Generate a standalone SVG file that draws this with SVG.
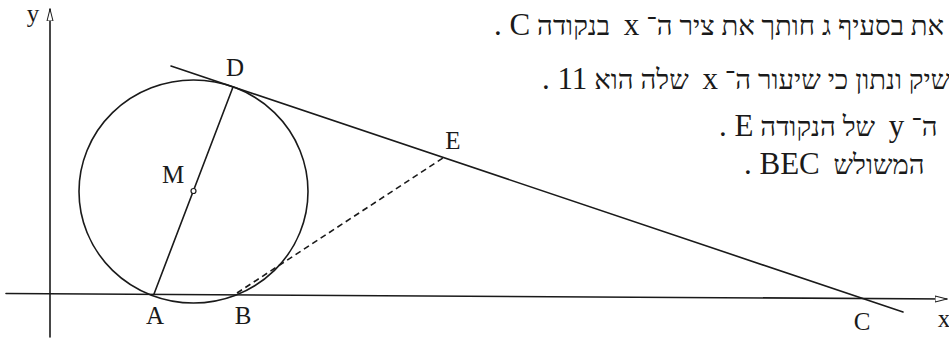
<svg xmlns="http://www.w3.org/2000/svg" width="949" height="338" viewBox="0 0 949 338">
<style>
.ln{stroke:#1a1a1a;stroke-width:1.6;fill:none;stroke-linecap:round}
.dash{stroke:#1a1a1a;stroke-width:1.6;fill:none;stroke-dasharray:6 4}
.lbl{font-family:"Liberation Serif","DejaVu Serif",serif;font-size:25px;fill:#1a1a1a;text-anchor:middle}
.heb{font-family:"Liberation Serif","DejaVu Serif","DejaVu Sans",serif;font-size:27.5px;fill:#1a1a1a;white-space:pre}
.lat{font-family:"Liberation Serif",serif;font-size:31px}
</style>
<defs>
<marker id="arr" viewBox="0 0 12 8" refX="12" refY="4" markerWidth="12" markerHeight="8" markerUnits="userSpaceOnUse" orient="auto">
<path d="M0,1 L12,4 L0,7 Z" fill="#ffffff" stroke="#1a1a1a" stroke-width="1"/>
</marker>
</defs>
<rect width="949" height="338" fill="#ffffff"/>
<g id="axes">
<line class="ln" x1="6" y1="293.5" x2="947" y2="299" marker-end="url(#arr)"/>
<line class="ln" x1="50" y1="337" x2="50" y2="9" marker-end="url(#arr)"/>
<text class="lbl" x="33" y="22">y</text>
<text class="lbl" x="944" y="327">x</text>
</g>
<g id="circle">
<ellipse class="ln" cx="193.5" cy="191.5" rx="114.5" ry="111.5"/>
</g>
<g id="connectors">
<line class="ln" x1="154" y1="294" x2="233" y2="87"/>
<line class="ln" x1="171" y1="66" x2="903" y2="312"/>
<line class="dash" x1="237" y1="293" x2="443" y2="158"/>
</g>
<g id="M">
<circle cx="193.5" cy="191" r="2.5" fill="#ffffff" stroke="#1a1a1a" stroke-width="1.2"/>
<text class="lbl" x="173" y="183">M</text>
</g>
<g id="D"><text class="lbl" x="235" y="76">D</text></g>
<g id="A"><text class="lbl" x="155" y="324">A</text></g>
<g id="B"><text class="lbl" x="243" y="324">B</text></g>
<g id="E"><text class="lbl" x="453" y="149">E</text></g>
<g id="C"><text class="lbl" x="862" y="330">C</text></g>
<g id="text">
<text class="heb" x="494" y="35" direction="rtl" text-anchor="end">את בסעיף ג חותך את ציר ה־ <tspan class="lat">x</tspan>  בנקודה <tspan class="lat">C .</tspan></text>
<text class="heb" x="542" y="89" direction="rtl" text-anchor="end">שיק ונתון כי שיעור ה־ <tspan class="lat">x</tspan>  שלה הוא <tspan class="lat">11 .</tspan></text>
<text class="heb" x="719" y="136" direction="rtl" text-anchor="end">ה־ <tspan class="lat">y</tspan>  של הנקודה <tspan class="lat">E .</tspan></text>
<text class="heb" x="744" y="174" direction="rtl" text-anchor="end">המשולש  <tspan class="lat">BEC .</tspan></text>
</g>
</svg>
